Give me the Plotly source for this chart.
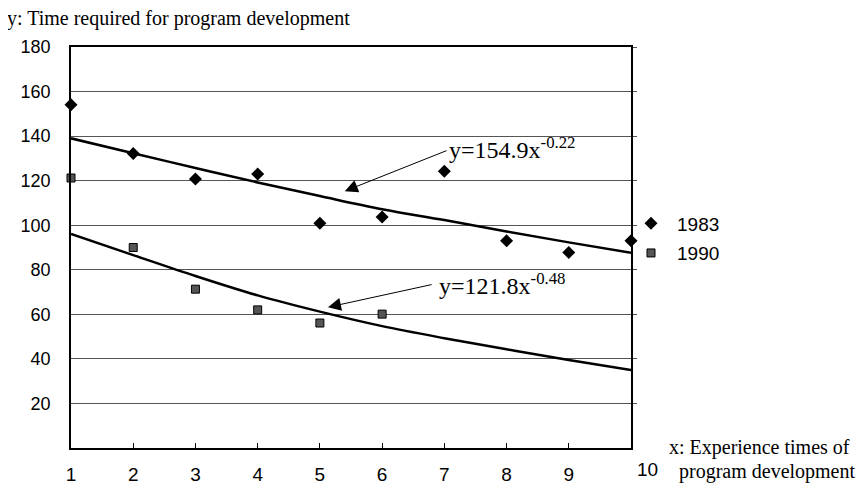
import plotly.graph_objects as go

x_vals = [1, 2, 3, 4, 5, 6, 7, 8, 9, 10]
y_1983 = [154.1, 132.2, 120.8, 123.0, 100.9, 103.7, 124.2, 93.0, 87.8, 93.0]
x_1990 = [1, 2, 3, 4, 5, 6]
y_1990 = [121.2, 90.0, 71.3, 62.0, 56.1, 60.1]
trend_1983 = [139.0, 132.3, 125.7, 119.2, 113.1, 107.2, 102.3, 97.2, 92.3, 87.6]
trend_1990 = [96.1, 86.6, 77.2, 68.5, 61.2, 54.7, 49.3, 44.3, 39.5, 35.0]
y_ticks = [20, 40, 60, 80, 100, 120, 140, 160, 180]
x_ticktext = ["1", "2", "3", "4", "5", "6", "7", "8", "9", ""]
eq_1983 = "y=154.9x<sup>-0.22</sup>"
eq_1990 = "y=121.8x<sup>-0.48</sup>"

serif = "Liberation Serif, Times New Roman, serif"
sans = "Liberation Sans, Arial, sans-serif"

fig = go.Figure()
fig.add_trace(go.Scatter(x=x_vals, y=trend_1983, mode="lines", line=dict(color="black", width=2.5, shape="spline"),
                         showlegend=False, hoverinfo="skip"))
fig.add_trace(go.Scatter(x=x_vals, y=trend_1990, mode="lines", line=dict(color="black", width=2.5, shape="spline"),
                         showlegend=False, hoverinfo="skip"))
fig.add_trace(go.Scatter(x=x_vals, y=y_1983, mode="markers", name="1983", legendgroup="a",
                         marker=dict(symbol="diamond", size=10, color="black", line=dict(width=0)),
                         cliponaxis=False))
fig.add_trace(go.Scatter(x=x_1990, y=y_1990, mode="markers", name="1990", legendgroup="b",
                         marker=dict(symbol="square", size=8, color="#555555", line=dict(width=1, color="black")),
                         cliponaxis=False))
fig.add_trace(go.Scatter(x=[1], y=[0], yaxis="y2", mode="markers", marker=dict(opacity=0),
                         showlegend=False, hoverinfo="skip"))

fig.update_layout(
    width=858, height=478,
    margin=dict(l=63, r=235, t=39, b=38, autoexpand=False),
    paper_bgcolor="white", plot_bgcolor="white",
    showlegend=True,
    legend=dict(x=0.9893, y=0.6075, xanchor="left", yanchor="top", font=dict(family=sans, size=19, color="black"),
                itemwidth=42, tracegroupgap=2, bgcolor="rgba(0,0,0,0)"),
    xaxis=dict(range=[1, 10], tickvals=x_vals, ticktext=x_ticktext, ticks="inside", ticklen=5, tickcolor="black",
               showline=True, mirror=True, linecolor="black", linewidth=1.5, showgrid=False, zeroline=False,
               automargin=False, tickfont=dict(family=sans, size=19, color="black"), ticklabelstandoff=8),
    yaxis=dict(range=[0, 180], tickvals=y_ticks, showline=True, linecolor="black", linewidth=1.5,
               showgrid=True, gridcolor="#555555", gridwidth=1, zeroline=False, ticks="", automargin=False,
               tickfont=dict(family=sans, size=18, color="black"), ticklabelstandoff=15),
    yaxis2=dict(range=[0, 180], overlaying="y", side="right", tickvals=y_ticks, ticks="outside", ticklen=4,
                tickcolor="#555555", showticklabels=False, showline=True, linecolor="black", linewidth=1.5,
                showgrid=False, zeroline=False, automargin=False),
)

# last x tick label (drawn slightly right of the axis end, as in the reference)
fig.add_annotation(x=10, y=0, xshift=16, yshift=-9, xanchor="center", yanchor="top", text="10", showarrow=False,
                   font=dict(family=sans, size=19, color="black"))

fig.add_annotation(xref="paper", yref="paper", x=-0.1179, y=1.0, yshift=29, xanchor="left", yanchor="middle",
                   text="y: Time required for program development", showarrow=False,
                   font=dict(family=serif, size=20, color="black"))
fig.add_annotation(xref="paper", yref="paper", x=1.0643, y=0.0, yshift=1, xanchor="left", yanchor="middle",
                   text="x: Experience times of", showarrow=False, font=dict(family=serif, size=20, color="black"))
fig.add_annotation(xref="paper", yref="paper", x=1.0821, y=0.0, yshift=-23, xanchor="left", yanchor="middle",
                   text="program development", showarrow=False, font=dict(family=serif, size=20, color="black"))

# equation labels
fig.add_annotation(x=7.043, y=134.6, xanchor="left", yanchor="middle", text=eq_1983, showarrow=False,
                   font=dict(family=serif, size=24, color="black"))
fig.add_annotation(x=6.88, y=73.6, xanchor="left", yanchor="middle", text=eq_1990, showarrow=False,
                   font=dict(family=serif, size=24, color="black"))
# arrows
fig.add_annotation(x=5.40, y=115.3, ax=7.06, ay=133.75, axref="x", ayref="y", text="", showarrow=True,
                   arrowhead=2, arrowsize=2.6, arrowwidth=1, arrowcolor="black")
fig.add_annotation(x=5.13, y=63.2, ax=6.82, ay=73.5, axref="x", ayref="y", text="", showarrow=True,
                   arrowhead=2, arrowsize=2.6, arrowwidth=1, arrowcolor="black")

fig.write_html("out.html")
